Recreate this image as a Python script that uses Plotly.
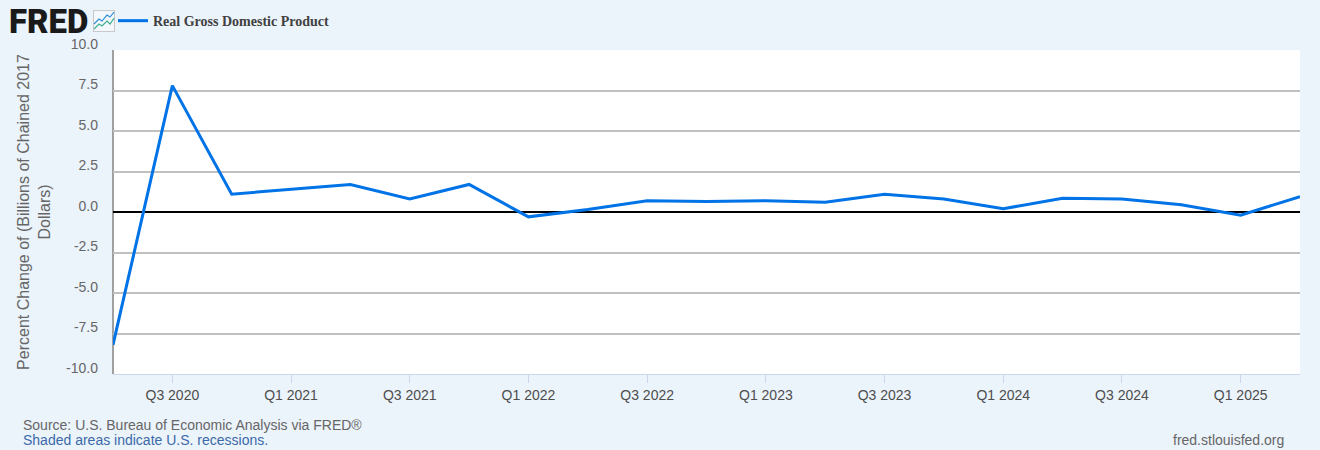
import base64
import plotly.graph_objects as go

W, H = 1320, 450
L, R, T, B = 113, 1300, 50, 374.5

quarters = ["Q2 2020", "Q3 2020", "Q4 2020", "Q1 2021", "Q2 2021", "Q3 2021", "Q4 2021",
            "Q1 2022", "Q2 2022", "Q3 2022", "Q4 2022", "Q1 2023", "Q2 2023", "Q3 2023",
            "Q4 2023", "Q1 2024", "Q2 2024", "Q3 2024", "Q4 2024", "Q1 2025", "Q2 2025"]
gdp_change = [-8.2, 7.8, 1.1, 1.4, 1.7, 0.8, 1.7, -0.3, 0.15, 0.7, 0.65, 0.7, 0.6, 1.1,
              0.8, 0.2, 0.85, 0.8, 0.45, -0.2, 0.95]
x_ticks = ["Q3 2020", "Q1 2021", "Q3 2021", "Q1 2022", "Q3 2022", "Q1 2023", "Q3 2023",
           "Q1 2024", "Q3 2024", "Q1 2025"]
y_ticks = [-10, -7.5, -5, -2.5, 0, 2.5, 5, 7.5, 10]
y_labels = ["-10.0", "-7.5", "-5.0", "-2.5", "0.0", "2.5", "5.0", "7.5", "10.0"]

SANS = "Liberation Sans, Arial, sans-serif"
SERIF = "Liberation Serif, Times New Roman, serif"

fig = go.Figure()
fig.add_trace(go.Scatter(x=quarters, y=gdp_change, mode="lines",
                         line=dict(color="#0073e6", width=3),
                         name="Real Gross Domestic Product", showlegend=True))


def note(text, x, y, size, color, anchor="left", family=SANS, weight="normal", height=None):
    fig.add_annotation(text=text, xref="paper", yref="paper", yanchor="middle",
                       x=(x - L) / (R - L), y=(B - y) / (B - T), xanchor=anchor, showarrow=False,
                       font=dict(family=family, size=size, color=color, weight=weight),
                       borderpad=0, borderwidth=0, height=height)


note("Source: U.S. Bureau of Economic Analysis via FRED®", 23, 426, 14, "#666666")
note("Shaded areas indicate U.S. recessions.", 23, 441, 14, "#3b6aa8")
note("fred.stlouisfed.org", 1284, 441, 14, "#666666", anchor="right")
note("FRED", 9, 21, 33, "#1a1a1a", family="Roboto", weight=900, height=30)

icon = """<svg xmlns='http://www.w3.org/2000/svg' width='22' height='22'>
<rect x='.5' y='.5' width='21' height='21' fill='#f4f8fc' stroke='#c8c8c8'/>
<polyline points='1,14 6,9 9,11 14,5 17,7 21,2' fill='none' stroke='#2f8fd8' stroke-width='1.2'/>
<polyline points='1,19 6,14 9,16 14,11 17,14 21,8' fill='none' stroke='#3fb08f' stroke-width='1.2'/>
</svg>"""
fig.add_layout_image(source="data:image/svg+xml;base64," + base64.b64encode(icon.encode()).decode(),
                     xref="paper", yref="paper", x=(93 - L) / (R - L), y=(B - 10) / (B - T),
                     sizex=22 / (R - L), sizey=22 / (B - T), xanchor="left", yanchor="top",
                     sizing="stretch", layer="above")

fig.add_shape(type="line", xref="paper", yref="paper", x0=0, x1=0, y0=0, y1=1, layer="between",
              line=dict(color="#a0a0a0", width=2))

fig.update_layout(
    width=W, height=H, autosize=False,
    margin=dict(l=L, r=W - R, t=T, b=H - B, pad=0, autoexpand=False),
    paper_bgcolor="#ebf3fb", plot_bgcolor="#ffffff",
    font=dict(family=SANS, size=14, color="#666666"),
    showlegend=True,
    legend=dict(x=(113 - L) / (R - L), y=(B - 5) / (B - T), xanchor="left", yanchor="top",
                bgcolor="rgba(0,0,0,0)", itemwidth=30,
                font=dict(family=SERIF, size=14, color="#404040", weight="bold")),
    xaxis=dict(type="category", categoryorder="array", categoryarray=quarters,
               range=[0, 20], tickmode="array", tickvals=x_ticks, ticktext=x_ticks,
               ticks="outside", ticklen=8, tickwidth=1, tickcolor="#ccd6eb",
               tickfont=dict(size=14, color="#4d4d4d"), showgrid=False, zeroline=False,
               showline=True, linecolor="#ccd6eb", linewidth=1, fixedrange=True),
    yaxis=dict(range=[-10, 10], tickmode="array", tickvals=y_ticks, ticktext=y_labels,
               tickfont=dict(size=14, color="#666666"), ticklabelshift=-6, ticklabelstandoff=14,
               gridcolor="#c0c0c0", gridwidth=2, ticks="",
               zeroline=True, zerolinecolor="#000000", zerolinewidth=2,
               showline=False,
               title=dict(text="Percent Change of (Billions of Chained 2017<br>Dollars)",
                          font=dict(size=16, color="#666666"), standoff=11)),
)

fig.write_html("out.html", config=dict(displayModeBar=False),
               post_script="document.body.style.margin='0';")
